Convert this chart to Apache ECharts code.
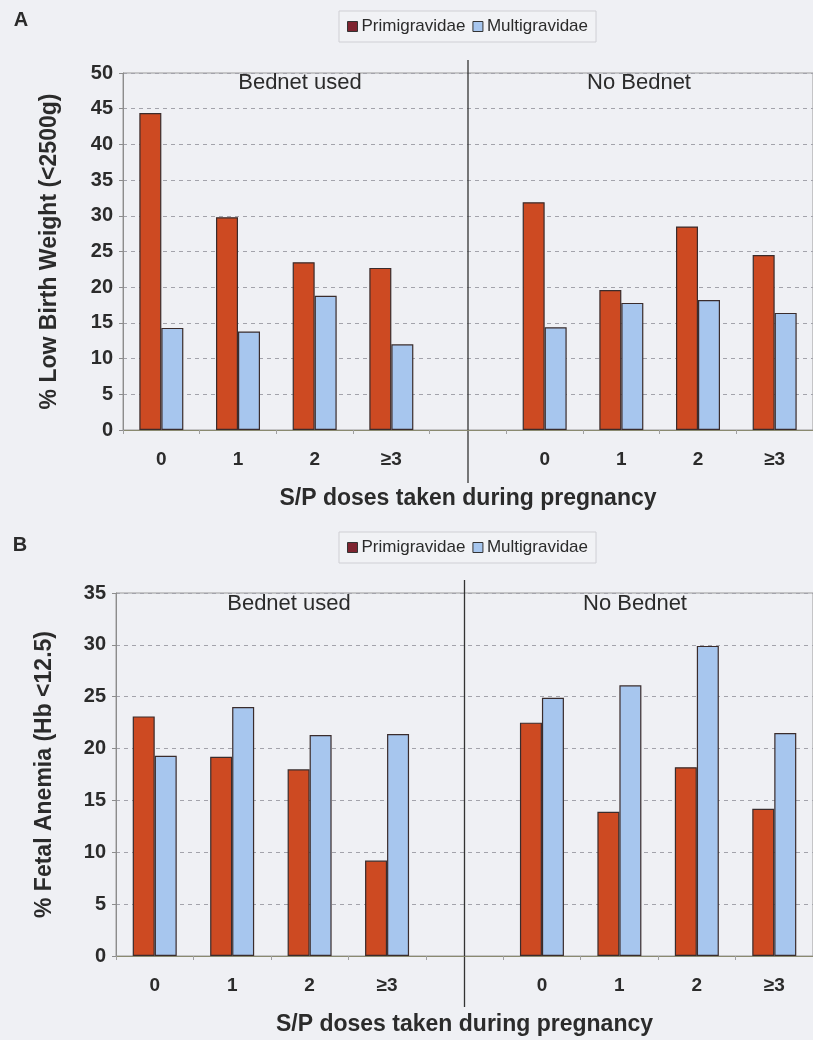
<!DOCTYPE html>
<html>
<head>
<meta charset="utf-8">
<script src="https://cdn.jsdelivr.net/npm/echarts@6/dist/echarts.min.js"></script>
<style>
  html, body { margin: 0; padding: 0; background: #eff0f4; }
  #chart { width: 813px; height: 1040px; }
</style>
</head>
<body>
<div id="chart"></div>
<script>
// 4 dose groups with bednet, an empty gap, 4 dose groups without bednet
var categories = ['u0', 'u1', 'u2', 'u3', 'gap', 'n0', 'n1', 'n2', 'n3'];
var doseLabels = ['0', '1', '2', '≥3', '', '0', '1', '2', '≥3'];
var groupTitles = ['Bednet used', 'No Bednet'];

// panel A: % low birth weight
var lbwPrimi = [44.4, 29.8, 23.5, 22.7, null, 31.9, 19.6, 28.5, 24.5];
var lbwMulti = [14.3, 13.8, 18.8, 12.0, null, 14.4, 17.8, 18.2, 16.4];

// panel B: % fetal anemia
var anemiaPrimi = [23.1, 19.2, 18.0, 9.2, null, 22.5, 13.9, 18.2, 14.2];
var anemiaMulti = [19.3, 24.0, 21.3, 21.4, null, 24.9, 26.1, 29.9, 21.5];

var FONT = 'Arial, "Liberation Sans", sans-serif';
var TXT = '#2b2b2b';
var RED = '#cd4a22';
var BLUE = '#a7c6ee';

var myChart = echarts.init(document.getElementById('chart'));

function xAxisFor(idx, gap) {
  return {
    type: 'category',
    gridIndex: idx,
    data: categories,
    name: 'S/P doses taken during pregnancy',
    nameLocation: 'middle',
    nameGap: gap,
    nameTextStyle: { fontFamily: FONT, fontWeight: 'bold', fontSize: 23, color: TXT },
    axisLine: { lineStyle: { color: '#8a8a70' } },
    axisTick: { show: true, length: 4, interval: 0, lineStyle: { color: '#a0a0a0' } },
    axisLabel: {
      interval: 0, margin: 20,
      fontFamily: FONT, fontWeight: 'bold', fontSize: 19, color: TXT,
      formatter: function (v, i) { return doseLabels[i]; }
    }
  };
}

function yAxisFor(idx, max, name, gap) {
  return {
    type: 'value',
    gridIndex: idx,
    min: 0, max: max, interval: 5,
    name: name,
    nameLocation: 'middle',
    nameGap: gap,
    nameTextStyle: { fontFamily: FONT, fontWeight: 'bold', fontSize: 23, color: TXT },
    axisLine: { show: true, lineStyle: { color: '#8c8c8c' } },
    axisTick: { show: true, length: 4, lineStyle: { color: '#8c8c8c' } },
    axisLabel: { margin: 10, fontFamily: FONT, fontWeight: 'bold', fontSize: 20, color: TXT },
    splitLine: { lineStyle: { color: '#a3a3ab', type: [4, 4] } }
  };
}

function barSeries(name, data, color, idx) {
  return {
    name: name,
    type: 'bar',
    xAxisIndex: idx, yAxisIndex: idx,
    data: data,
    barWidth: 22,
    barGap: '0%',
    itemStyle: { color: color, borderColor: '#3a2c2c', borderWidth: 1.2 }
  };
}

function legendAt(top) {
  return {
    left: 339, top: top,
    padding: [7, 8],
    backgroundColor: '#f1f2f5',
    borderColor: '#cfcfd4', borderWidth: 1,
    icon: 'rect',
    itemWidth: 10, itemHeight: 10, itemGap: 7,
    textStyle: { fontFamily: FONT, fontSize: 17, color: TXT, padding: [0, 0, 0, -1] },
    data: [
      { name: 'Primigravidae', itemStyle: { color: '#7e2430', borderColor: '#333', borderWidth: 1 } },
      { name: 'Multigravidae', itemStyle: { color: BLUE, borderColor: '#333', borderWidth: 1 } }
    ]
  };
}

var option = {
  backgroundColor: '#eff0f4',
  animation: false,
  legend: [legendAt(11), legendAt(532)],
  grid: [
    { left: 123, top: 73, width: 700, height: 357, show: true, borderColor: '#9a9a9a', borderWidth: 1 },
    { left: 116, top: 593, width: 703, height: 363, show: true, borderColor: '#9a9a9a', borderWidth: 1 }
  ],
  xAxis: [xAxisFor(0, 57), xAxisFor(1, 57)],
  yAxis: [
    yAxisFor(0, 50, '% Low Birth Weight (<2500g)', 62),
    yAxisFor(1, 35, '% Fetal Anemia (Hb <12.5)', 60)
  ],
  series: [
    barSeries('Primigravidae', lbwPrimi, RED, 0),
    barSeries('Multigravidae', lbwMulti, BLUE, 0),
    barSeries('Primigravidae', anemiaPrimi, RED, 1),
    barSeries('Multigravidae', anemiaMulti, BLUE, 1)
  ]
};

myChart.setOption(option);

// divider lines through the empty gap category, plus panel letters and group titles
var xA = myChart.convertToPixel({ xAxisIndex: 0 }, 4);
var xB = myChart.convertToPixel({ xAxisIndex: 1 }, 4);
var topA = myChart.convertToPixel({ yAxisIndex: 0 }, 50);
var botA = myChart.convertToPixel({ yAxisIndex: 0 }, 0);
var topB = myChart.convertToPixel({ yAxisIndex: 1 }, 35);
var botB = myChart.convertToPixel({ yAxisIndex: 1 }, 0);

function label(text, x, y, size, weight) {
  return {
    type: 'text', x: x, y: y,
    style: { text: text, fontFamily: FONT, fontSize: size, fontWeight: weight || 'normal',
             fill: TXT, align: 'center', verticalAlign: 'middle' }
  };
}

myChart.setOption({
  graphic: [
    { type: 'line', shape: { x1: xA, y1: topA - 13, x2: xA, y2: botA + 53 },
      style: { stroke: '#333', lineWidth: 1.3 } },
    { type: 'line', shape: { x1: xB, y1: topB - 13, x2: xB, y2: botB + 51 },
      style: { stroke: '#333', lineWidth: 1.3 } },
    label('A', 21, 20, 20, 'bold'),
    label('B', 20, 545, 20, 'bold'),
    label(groupTitles[0], 300, 83, 22),
    label(groupTitles[1], 639, 83, 22),
    label(groupTitles[0], 289, 604, 22),
    label(groupTitles[1], 635, 604, 22)
  ]
});

window.addEventListener('resize', function () {
  myChart.resize();
});
</script>
</body>
</html>
